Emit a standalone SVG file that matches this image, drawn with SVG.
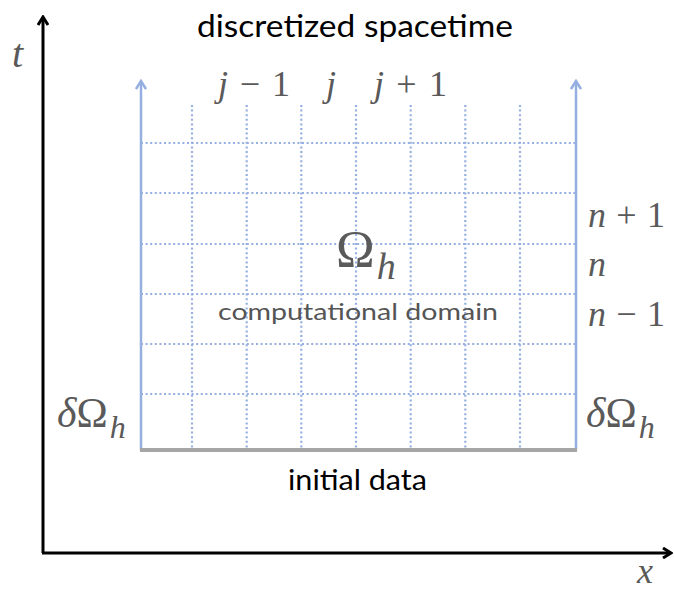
<svg xmlns="http://www.w3.org/2000/svg" width="674" height="592" viewBox="0 0 674 592">
<style>
.axis{stroke:#000;stroke-width:3;fill:none}
.bnd{stroke:#94afe0;stroke-width:2.5;fill:none}
.grid{stroke:#94afe0;stroke-width:2.2;stroke-dasharray:2 2.6;fill:none}
.base{stroke:#a6a6a6;stroke-width:4;fill:none}
.math{font-family:"Liberation Serif",serif;fill:#5a5a5a}
.it{font-style:italic}
.sans{font-family:"Lato","Open Sans",sans-serif}
</style>
<defs>
<marker id="ah" viewBox="0 0 12 12" refX="10" refY="6" markerWidth="12" markerHeight="12" markerUnits="userSpaceOnUse" orient="auto">
<path d="M2,1 L10,6 L2,11" fill="none" stroke="#000" stroke-width="3"/>
</marker>
<marker id="bh" viewBox="0 0 12 12" refX="10" refY="6" markerWidth="12" markerHeight="12" markerUnits="userSpaceOnUse" orient="auto">
<path d="M2,1 L10,6 L2,11" fill="none" stroke="#94afe0" stroke-width="2.5"/>
</marker>
</defs>
<rect width="674" height="592" fill="#fff"/>
<g id="grid">
<path class="grid" d="M141,143H576M141,193H576M141,244H576M141,294H576M141,344H576M141,394H576"/>
<path class="grid" d="M192,105V450M246.7,105V450M301.3,105V450M356,105V450M410.7,105V450M465.3,105V450M520,105V450"/>
</g>
<g id="connectors">
<path class="axis" d="M43,553V17" marker-end="url(#ah)"/>
<path class="axis" d="M42,553H671" marker-end="url(#ah)"/>
<path class="bnd" d="M141,450V81" marker-end="url(#bh)"/>
<path class="bnd" d="M576,450V81" marker-end="url(#bh)"/>
<path class="base" d="M140,450H577"/>
</g>
<g id="title"><text class="sans" x="197" y="37" font-size="30" textLength="316" lengthAdjust="spacingAndGlyphs" fill="#000">discretized spacetime</text></g>
<g id="t-label"><text class="math it" x="12" y="67" font-size="40">t</text></g>
<g id="x-label"><text class="math it" x="637" y="583" font-size="36">x</text></g>
<g id="j-labels" font-size="36">
<text class="math" x="218" y="96" textLength="72"><tspan class="it">j</tspan> − 1</text>
<text class="math it" x="326" y="96">j</text>
<text class="math" x="374" y="96" textLength="73"><tspan class="it">j</tspan> + 1</text>
</g>
<g id="n-labels" font-size="36">
<text class="math" x="588" y="227" textLength="77"><tspan class="it">n</tspan> + 1</text>
<text class="math it" x="588" y="276">n</text>
<text class="math" x="588" y="326" textLength="77"><tspan class="it">n</tspan> − 1</text>
</g>
<g id="omega">
<text class="math" x="336" y="267" font-size="52">Ω<tspan class="it" font-size="38" dx="2" dy="12">h</tspan></text>
<text class="sans" x="218" y="320" font-size="24" textLength="280" lengthAdjust="spacingAndGlyphs" fill="#555">computational domain</text>
</g>
<g id="left-boundary"><text class="math" x="57" y="427" font-size="42"><tspan class="it">δ</tspan>Ω<tspan class="it" font-size="32" dx="2" dy="11">h</tspan></text></g>
<g id="right-boundary"><text class="math" x="586" y="427" font-size="42"><tspan class="it">δ</tspan>Ω<tspan class="it" font-size="32" dx="2" dy="11">h</tspan></text></g>
<g id="initial"><text class="sans" x="288" y="490" font-size="29" textLength="139" lengthAdjust="spacingAndGlyphs" fill="#000">initial data</text></g>
</svg>
